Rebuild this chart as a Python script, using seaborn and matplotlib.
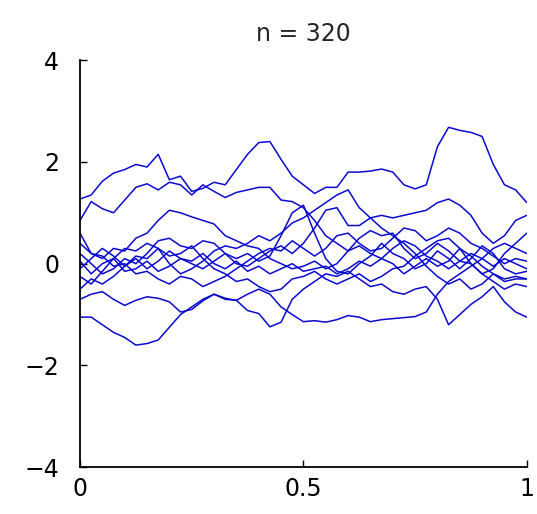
import numpy as np
import pandas as pd
import matplotlib
matplotlib.use("Agg")
import matplotlib.pyplot as plt
import seaborn as sns

# sample paths, one value every 0.025 on [0, 1]
t = np.linspace(0, 1, 41)

path1 = [1.27, 1.35, 1.62, 1.78, 1.85, 1.95, 1.90, 2.15, 1.65, 1.72, 1.42, 1.48, 1.60, 1.55,
         1.85, 2.15, 2.38, 2.40, 2.05, 1.72, 1.55, 1.38, 1.50, 1.50, 1.80, 1.80, 1.82, 1.86,
         1.80, 1.55, 1.47, 1.55, 2.30, 2.68, 2.62, 2.58, 2.50, 1.95, 1.55, 1.45, 1.20]
path2 = [0.85, 1.22, 1.08, 1.00, 1.25, 1.50, 1.57, 1.45, 1.60, 1.55, 1.35, 1.55, 1.42, 1.30,
         1.40, 1.45, 1.50, 1.50, 1.25, 1.22, 1.10, 0.85, 0.55, 0.40, 0.25, 0.35, 0.20, 0.10,
         0.30, 0.45, 0.35, 0.15, 0.05, -0.10, 0.05, 0.20, 0.10, -0.05, 0.10, 0.00, -0.10]
path3 = [0.40, 0.20, 0.10, 0.30, 0.25, 0.50, 0.60, 0.85, 1.05, 1.00, 0.92, 0.85, 0.78, 0.55,
         0.45, 0.35, 0.30, 0.10, 0.00, -0.10, -0.05, 0.05, -0.10, 0.00, 0.25, 0.50, 0.65, 0.55,
         0.60, 0.30, 0.10, 0.20, 0.40, 0.25, 0.05, 0.00, -0.20, -0.10, 0.20, 0.40, 0.60]
path4 = [0.20, 0.00, -0.20, -0.10, 0.10, 0.00, 0.20, 0.45, 0.50, 0.35, 0.30, 0.45, 0.40, 0.20,
         0.10, 0.20, 0.05, 0.15, 0.55, 1.00, 1.15, 0.60, 0.10, -0.15, -0.20, 0.00, 0.15, 0.40,
         0.20, 0.10, -0.10, 0.00, 0.25, 0.10, -0.10, 0.10, 0.35, 0.20, -0.10, -0.20, -0.15]
path5 = [-0.10, 0.10, 0.30, 0.15, -0.05, 0.10, -0.10, 0.05, 0.25, 0.10, 0.00, -0.10, 0.05, 0.20,
         0.00, -0.05, 0.10, 0.25, 0.35, 0.20, 0.40, 0.70, 1.05, 1.10, 0.75, 0.75, 0.90, 0.95,
         0.90, 0.95, 1.00, 1.05, 1.20, 1.27, 1.15, 0.95, 0.60, 0.40, 0.55, 0.85, 0.95]
path6 = [-1.05, -1.05, -1.20, -1.35, -1.45, -1.60, -1.57, -1.50, -1.25, -1.00, -0.85, -0.70, -0.60,
         -0.70, -0.72, -0.60, -0.50, -0.60, -0.85, -1.00, -1.14, -1.12, -1.15, -1.10, -1.02, -1.05,
         -1.14, -1.10, -1.08, -1.06, -1.04, -0.95, -0.60, -0.35, -0.20, -0.05, 0.10, 0.30, 0.40,
         0.30, 0.20]
path7 = [-0.70, -0.60, -0.55, -0.70, -0.82, -0.72, -0.65, -0.68, -0.75, -0.95, -0.90, -0.73, -0.60,
         -0.68, -0.72, -0.92, -0.98, -1.24, -1.15, -0.70, -0.50, -0.35, -0.20, -0.25, -0.15, -0.30,
         -0.45, -0.40, -0.55, -0.60, -0.50, -0.45, -0.70, -1.20, -1.00, -0.80, -0.65, -0.45, -0.75,
         -0.95, -1.05]
path8 = [0.05, -0.20, 0.00, 0.10, -0.15, -0.10, 0.05, -0.15, -0.05, 0.10, 0.05, 0.20, 0.00, -0.10,
         0.05, -0.15, -0.05, -0.20, -0.10, 0.00, -0.15, -0.10, -0.05, -0.20, -0.10, 0.05, -0.05,
         0.10, 0.00, -0.20, -0.05, 0.10, -0.05, 0.05, 0.30, 0.15, -0.05, -0.20, -0.30, -0.25, -0.30]
path9 = [-0.50, -0.30, -0.40, -0.25, -0.05, 0.15, 0.10, 0.30, 0.15, 0.20, 0.35, 0.10, -0.10, -0.20,
         -0.35, -0.30, -0.45, -0.55, -0.50, -0.30, -0.25, -0.15, -0.30, -0.40, -0.30, -0.20, -0.35,
         -0.25, -0.10, -0.05, 0.15, 0.30, 0.45, 0.50, 0.30, 0.00, -0.20, -0.35, -0.50, -0.40, -0.45]
path10 = [0.60, 0.20, 0.15, -0.05, 0.00, -0.20, -0.15, -0.30, -0.40, -0.25, -0.30, -0.45, -0.35,
          -0.25, -0.10, 0.05, 0.20, 0.30, 0.25, 0.45, 0.30, 0.15, 0.30, 0.55, 0.60, 0.40, 0.25,
          0.30, 0.50, 0.70, 0.65, 0.45, 0.55, 0.70, 0.60, 0.40, 0.30, 0.15, 0.00, 0.10, 0.05]
path11 = [-0.25, -0.40, -0.15, 0.10, 0.30, 0.25, 0.40, 0.30, 0.00, -0.20, -0.10, 0.05, 0.25, 0.35,
          0.30, 0.40, 0.55, 0.45, 0.60, 0.80, 0.90, 1.05, 1.20, 1.35, 1.45, 1.10, 0.90, 0.70, 0.55,
          0.40, 0.20, -0.05, -0.25, -0.40, -0.30, -0.50, -0.40, -0.20, -0.35, -0.30, -0.30]

paths = [path1, path2, path3, path4, path5, path6, path7, path8, path9, path10, path11]

df = pd.concat(
    [pd.DataFrame({"t": t, "x": p, "path": i}) for i, p in enumerate(paths)],
    ignore_index=True,
)

sns.set_style("ticks")
plt.rcParams["font.family"] = ["DejaVu Sans"]

fig = plt.figure(figsize=(5.37, 5.14), dpi=100)
ax = fig.add_axes([0.149, 0.091, 0.832, 0.792])

sns.lineplot(data=df, x="t", y="x", hue="path", palette=["#0a0ad0"] * len(paths),
             estimator=None, sort=False, legend=False, linewidth=1.1, ax=ax)

ax.set_xlim(0, 1)
ax.set_ylim(-4, 4)
ax.set_xticks([0, 0.5, 1])
ax.set_xticklabels(["0", "0.5", "1"])
ax.set_yticks([-4, -2, 0, 2, 4])
ax.set_yticklabels(["\u22124", "\u22122", "0", "2", "4"])
ax.tick_params(direction="in", length=5, width=1, labelsize=17, colors="black")
ax.tick_params(axis="y", pad=15)
ax.tick_params(axis="x", pad=7)
ax.set_xlabel("")
ax.set_ylabel("")
for side in ["left", "bottom"]:
    ax.spines[side].set_linewidth(1.3)
    ax.spines[side].set_color("black")
sns.despine(ax=ax)
ax.set_title("n = 320", fontsize=17, pad=14)

fig.savefig("out.png", dpi=100)
